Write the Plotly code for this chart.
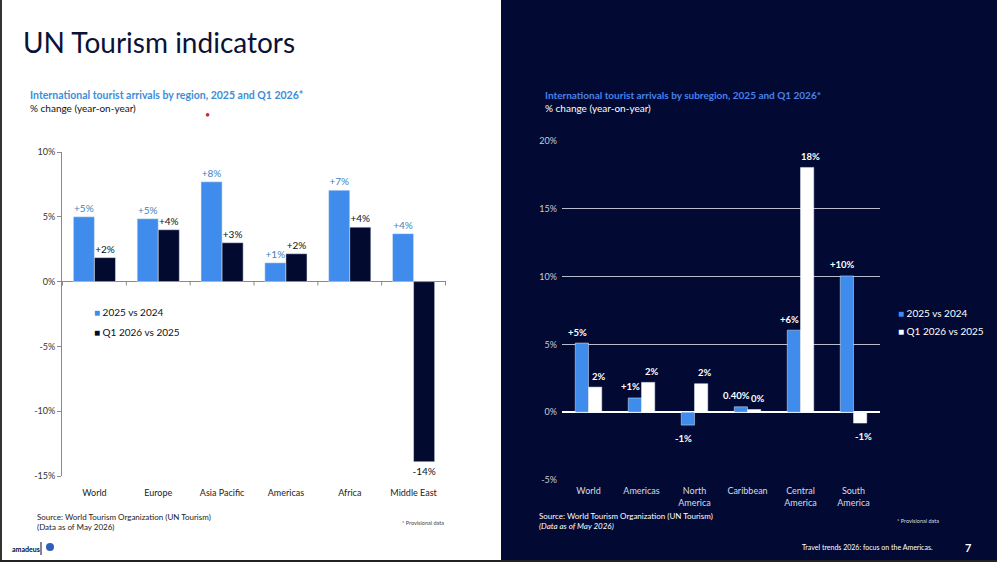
import plotly.graph_objects as go

W, H = 997, 562

# ---------------- data ----------------
regions = ["World", "Europe", "Asia Pacific", "Americas", "Africa", "Middle East"]
left_2025 = [5.0, 4.85, 7.7, 1.45, 7.05, 3.7]
left_q1 = [1.85, 4.0, 3.0, 2.15, 4.2, -13.9]
left_2025_txt = ["+5%", "+5%", "+8%", "+1%", "+7%", "+4%"]
left_q1_txt = ["+2%", "+4%", "+3%", "+2%", "+4%", "-14%"]
left_ticks = [-15, -10, -5, 0, 5, 10]
left_ticktext = ["-15%", "-10%", "-5%", "0%", "5%", "10%"]

subregions = ["World", "Americas", "North<br>America", "Caribbean", "Central<br>America", "South<br>America"]
right_2025 = [5.1, 1.05, -0.95, 0.4, 6.05, 10.05]
right_q1 = [1.85, 2.2, 2.1, 0.2, 18.05, -0.8]
right_2025_txt = ["+5%", "+1%", "-1%", "0.40%", "+6%", "+10%"]
right_q1_txt = ["2%", "2%", "2%", "0%", "18%", "-1%"]
right_ticks = [-5, 0, 5, 10, 15, 20]
right_ticktext = ["-5%", "0%", "5%", "10%", "15%", "20%"]

series_names = ["2025 vs 2024", "Q1 2026 vs 2025"]

# ---------------- styles ----------------
FONT = "Lato, 'Open Sans', sans-serif"
NAVY = "#020a33"
BLUE = "#3f8cec"
DARKBAR = "#020a30"


def px(x):
    return x / W


def py(y):
    return 1 - y / H


fig = go.Figure()

fig.add_trace(go.Bar(
    x=regions, y=left_2025, name=series_names[0], marker_color=BLUE,
    text=left_2025_txt, textposition="outside", cliponaxis=False, constraintext="none",
    textfont=dict(color="#3f7fc0", size=10, family=FONT),
    xaxis="x", yaxis="y", showlegend=False))
fig.add_trace(go.Bar(
    x=regions, y=left_q1, name=series_names[1], marker_color=DARKBAR,
    text=left_q1_txt, textposition="outside", cliponaxis=False, constraintext="none",
    textfont=dict(color="#111111", size=10, family=FONT),
    xaxis="x", yaxis="y", showlegend=False))

fig.add_trace(go.Bar(
    x=subregions, y=right_2025, name=series_names[0], marker_color=BLUE,
    width=0.25, offset=-0.25, cliponaxis=False,
    xaxis="x2", yaxis="y2", showlegend=False))
fig.add_trace(go.Bar(
    x=subregions, y=right_q1, name=series_names[1], marker_color="#ffffff",
    width=0.25, offset=0.0, cliponaxis=False,
    xaxis="x2", yaxis="y2", showlegend=False))

shapes = [
    # dark right panel
    dict(type="rect", xref="paper", yref="paper", x0=px(501), x1=1, y0=0, y1=1,
         fillcolor=NAVY, line_width=0, layer="below"),
    # left border
    dict(type="rect", xref="paper", yref="paper", x0=0, x1=px(2), y0=0, y1=1,
         fillcolor="#333333", line_width=0, layer="below"),
    # bottom border
    dict(type="rect", xref="paper", yref="paper", x0=0, x1=1, y0=0, y1=py(560),
         fillcolor="#222222", line_width=0, layer="below"),
    # amadeus separator
    dict(type="line", xref="paper", yref="paper", x0=px(41), x1=px(41), y0=py(542), y1=py(555),
         line=dict(color=NAVY, width=1)),
    dict(type="circle", xref="paper", yref="paper", x0=px(46), x1=px(54), y0=py(551), y1=py(543),
         fillcolor="#2f5fb8", line_width=0),
]
# category boundary ticks on the zero line (left chart)
for i in range(len(regions) + 1):
    shapes.append(dict(type="line", xref="x", yref="y", x0=i - 0.5, x1=i - 0.5, y0=0, y1=-0.3,
                       line=dict(color="#8a8a8a", width=1)))

annotations = [
    dict(text="UN Tourism indicators", x=px(21), y=py(42), xanchor="left", yanchor="middle",
         font=dict(size=28, color="#0b1238", family=FONT)),
    dict(text="<b>International tourist arrivals by region, 2025 and Q1 2026*</b>", x=px(28), y=py(95),
         xanchor="left", yanchor="middle", font=dict(size=10.5, color="#3c8ed8", family=FONT)),
    dict(text="% change (year-on-year)", x=px(28), y=py(108), xanchor="left", yanchor="middle",
         font=dict(size=10, color="#111111", family=FONT)),
    dict(text="•", x=px(207), y=py(115), xanchor="center", yanchor="middle",
         font=dict(size=9, color="#d62020", family=FONT)),
    dict(text="<b>International tourist arrivals by subregion, 2025 and Q1 2026*</b>", x=px(543), y=py(95),
         xanchor="left", yanchor="middle", font=dict(size=10, color="#4a82e8", family=FONT)),
    dict(text="% change (year-on-year)", x=px(543), y=py(108), xanchor="left", yanchor="middle",
         font=dict(size=10, color="#ffffff", family=FONT)),
    dict(text="Source: World Tourism Organization (UN Tourism)<br>(Data as of May 2026)", x=px(35), y=py(522),
         xanchor="left", yanchor="middle", align="left",
         font=dict(size=8, color="#222222", family=FONT)),
    dict(text="* Provisional data", x=px(400), y=py(523), xanchor="left", yanchor="middle",
         font=dict(size=5.5, color="#444444", family=FONT)),
    dict(text="Source: World Tourism Organization (UN Tourism)<br><i>(Data as of May 2026)</i>", x=px(537),
         y=py(521), xanchor="left", yanchor="middle", align="left",
         font=dict(size=8, color="#ffffff", family=FONT)),
    dict(text="* Provisional data", x=px(895), y=py(521), xanchor="left", yanchor="middle",
         font=dict(size=5.5, color="#dddddd", family=FONT)),
    dict(text="Travel trends 2026: focus on the Americas.", x=px(935), y=py(547), xanchor="right",
         yanchor="middle", font=dict(size=7, color="#ffffff", family=FONT)),
    dict(text="<b>7</b>", x=px(968), y=py(547), xanchor="center", yanchor="middle",
         font=dict(size=11, color="#ffffff", family=FONT)),
    dict(text="<b>amadeus</b>", x=px(10), y=py(549), xanchor="left", yanchor="middle",
         font=dict(size=7, color=NAVY, family=FONT)),
    # manual legends
    dict(text=f'<span style="color:{BLUE}">■</span> {series_names[0]}', x=px(92), y=py(312),
         xanchor="left", yanchor="middle", font=dict(size=10, color="#111111", family=FONT)),
    dict(text=f'<span style="color:{DARKBAR}">■</span> {series_names[1]}', x=px(92), y=py(332),
         xanchor="left", yanchor="middle", font=dict(size=10, color="#111111", family=FONT)),
    dict(text=f'<span style="color:{BLUE}">■</span> {series_names[0]}', x=px(896), y=py(313),
         xanchor="left", yanchor="middle", font=dict(size=10, color="#ffffff", family=FONT)),
    dict(text=f'<span style="color:#ffffff">■</span> {series_names[1]}', x=px(896), y=py(331),
         xanchor="left", yanchor="middle", font=dict(size=10, color="#ffffff", family=FONT)),
]
for a in annotations:
    a.update(xref="paper", yref="paper", showarrow=False)

# right chart data labels, anchored to bar values
for vals, txts, shift in ((right_2025, right_2025_txt, -11), (right_q1, right_q1_txt, 10)):
    for cat, v, t in zip(subregions, vals, txts):
        annotations.append(dict(
            text=f"<b>{t}</b>", x=cat, y=v, xref="x2", yref="y2", showarrow=False,
            xshift=shift, yshift=11 if v >= 0 else -13, yanchor="middle", xanchor="center",
            borderpad=0, font=dict(size=9.5, color="#ffffff", family=FONT)))

fig.update_layout(
    width=W, height=H, margin=dict(l=0, r=0, t=0, b=0, autoexpand=False),
    paper_bgcolor="#ffffff", plot_bgcolor="rgba(0,0,0,0)",
    font=dict(family=FONT),
    barmode="group", bargap=0.34,
    shapes=shapes, annotations=annotations,
    xaxis=dict(domain=[px(62), px(446)], anchor="y", showgrid=False, showline=False,
               ticks="", tickfont=dict(size=9, color="#222222"), ticklabelstandoff=10,
               automargin=False),
    yaxis=dict(domain=[py(476), py(152)], anchor="x", range=[-15, 10], tickvals=left_ticks,
               ticktext=left_ticktext, showgrid=False, showline=True, linecolor="#8a8a8a",
               ticks="outside", ticklen=4, tickcolor="#8a8a8a",
               zeroline=True, zerolinecolor="#8a8a8a", zerolinewidth=1,
               tickfont=dict(size=9, color="#333333"), automargin=False),
    xaxis2=dict(domain=[px(562), px(880)], anchor="y2", showgrid=False, showline=False,
                ticks="", tickfont=dict(size=9, color="#d8dbe6"), ticklabelstandoff=4,
                automargin=False),
    yaxis2=dict(domain=[py(480), py(141)], anchor="x2", range=[-5, 20], tickvals=right_ticks,
                ticktext=right_ticktext, showgrid=True, gridcolor="#b7bbcc", gridwidth=1,
                showline=False, zeroline=True, zerolinecolor="#ffffff", zerolinewidth=1.5,
                tickfont=dict(size=9, color="#c9ccd8"), ticklabelstandoff=4, automargin=False),
)

post = (
    "var h=document.documentElement, b=document.body;"
    "[h,b].forEach(function(e){e.style.margin='0';e.style.padding='0';"
    "e.style.overflow='hidden';e.style.width='997px';e.style.height='562px';});"
    "var d=document.getElementById('{plot_id}');"
    "d.style.position='fixed';d.style.left='0px';d.style.top='0px';"
)
fig.write_html("out.html", post_script=post)
